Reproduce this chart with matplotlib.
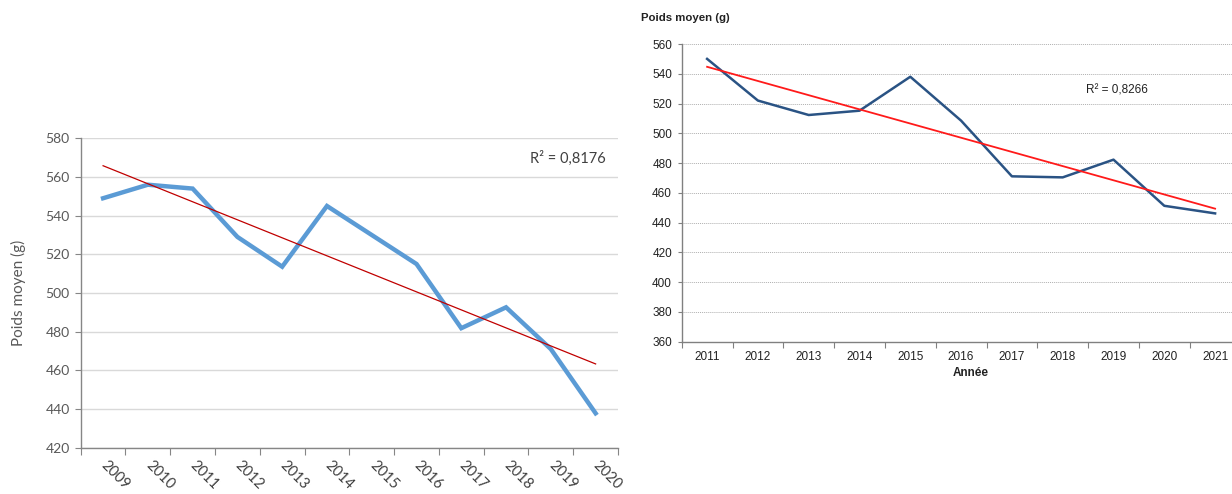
import numpy as np
import matplotlib
matplotlib.use("Agg")
import matplotlib.pyplot as plt
from matplotlib.ticker import FixedLocator, NullFormatter, FixedFormatter

# Left chart data
YEARS_LEFT = ["2009", "2010", "2011", "2012", "2013", "2014",
              "2015", "2016", "2017", "2018", "2019", "2020"]
WEIGHT_LEFT = [549, 556, 554, 529, 513.6, 545, 530, 515, 481.8, 492.6, 471, 437.8]
R2_LEFT = "R² = 0,8176"

# Right chart data
YEARS_RIGHT = ["2011", "2012", "2013", "2014", "2015", "2016",
               "2017", "2018", "2019", "2020", "2021"]
WEIGHT_RIGHT = [550, 522, 512.3, 515.2, 538, 508.5, 471.1, 470.4, 482.3, 451.3, 446.2]
R2_RIGHT = "R² = 0,8266"

W, H = 1232, 494
fig = plt.figure(figsize=(W / 100, H / 100), dpi=100)


def trend(values):
    x = np.arange(len(values))
    slope, icpt = np.polyfit(x, values, 1)
    return x, slope * x + icpt


# ---------- left chart (Excel style) ----------
ax1 = fig.add_axes([80.7 / W, 46.3 / H, 537.3 / W, 309.4 / H])
n1 = len(YEARS_LEFT)
x1 = np.arange(n1)
ax1.plot(x1, WEIGHT_LEFT, color="#5b9bd5", lw=3.2, solid_joinstyle="miter", zorder=3)
tx, ty = trend(WEIGHT_LEFT)
ax1.plot(tx, ty, color="#c00000", lw=0.9, zorder=4)
ax1.set_xlim(-0.5, n1 - 0.5)
ax1.set_ylim(420, 580)
ax1.set_yticks(range(420, 581, 20))
ax1.grid(axis="y", color="#d9d9d9", lw=1)
ax1.set_axisbelow(True)
for s in ["top", "right"]:
    ax1.spines[s].set_visible(False)
for s in ["left", "bottom"]:
    ax1.spines[s].set_color("#868686")
    ax1.spines[s].set_linewidth(1)
ax1.xaxis.set_major_locator(FixedLocator(np.arange(-0.5, n1, 1)))
ax1.xaxis.set_major_formatter(NullFormatter())
ax1.xaxis.set_minor_locator(FixedLocator(x1))
ax1.xaxis.set_minor_formatter(FixedFormatter(YEARS_LEFT))
ax1.tick_params(axis="x", which="major", length=5, color="#868686", direction="out")
ax1.tick_params(axis="x", which="minor", length=0, pad=11, labelsize=10.5,
                labelcolor="#404040", labelrotation=-45)
ax1.tick_params(axis="y", length=4, color="#868686", labelsize=10,
                labelcolor="#595959", pad=4)
for lab in ax1.get_xticklabels(minor=True):
    lab.set_ha("left")
    lab.set_va("center")
    lab.set_rotation_mode("anchor")
for lab in ax1.get_xticklabels(minor=True) + ax1.get_yticklabels():
    lab.set_family("Lato")
ax1.set_ylabel("Poids moyen (g)", fontsize=11, color="#595959", family="Lato",
               labelpad=14)
ax1.text(0.978, 0.936, R2_LEFT, transform=ax1.transAxes, ha="right", va="center",
         fontsize=10.5, color="#404040", family="Lato")

# ---------- right chart ----------
ax2 = fig.add_axes([681.7 / W, 152.3 / H, 558.8 / W, 297.7 / H])
n2 = len(YEARS_RIGHT)
x2 = np.arange(n2)
ax2.plot(x2, WEIGHT_RIGHT, color="#2a5384", lw=1.8, zorder=3)
tx, ty = trend(WEIGHT_RIGHT)
ax2.plot(tx, ty, color="#ff1a1a", lw=1.3, zorder=4)
ax2.set_xlim(-0.5, n2 - 0.5)
ax2.set_ylim(360, 560)
ax2.set_yticks(range(360, 561, 20))
ax2.grid(axis="y", color="#b0b0b0", lw=0.7, linestyle=(0, (1, 1)))
ax2.set_axisbelow(True)
for s in ["top", "right"]:
    ax2.spines[s].set_visible(False)
for s in ["left", "bottom"]:
    ax2.spines[s].set_color("#808080")
    ax2.spines[s].set_linewidth(1)
ax2.xaxis.set_major_locator(FixedLocator(np.arange(-0.5, n2, 1)))
ax2.xaxis.set_major_formatter(NullFormatter())
ax2.xaxis.set_minor_locator(FixedLocator(x2))
ax2.xaxis.set_minor_formatter(FixedFormatter(YEARS_RIGHT))
ax2.tick_params(axis="x", which="major", length=4, color="#808080", direction="out")
ax2.tick_params(axis="x", which="minor", length=0, pad=7, labelsize=8.5,
                labelcolor="#222222")
ax2.tick_params(axis="y", length=3, color="#808080", labelsize=8.5,
                labelcolor="#222222", pad=4)
for lab in ax2.get_xticklabels(minor=True) + ax2.get_yticklabels():
    lab.set_family("Liberation Sans")
ax2.text(0.7235, 0.845, R2_RIGHT, transform=ax2.transAxes, ha="left", va="center",
         fontsize=8.5, color="#222222", family="Liberation Sans")
fig.text(641 / W, 1 - 18 / H, "Poids moyen (g)", ha="left", va="center",
         fontsize=8.2, fontweight="bold", color="#222222", family="Liberation Sans")
fig.text(971 / W, 1 - 373 / H, "Année", ha="center", va="center",
         fontsize=8.5, fontweight="bold", color="#222222", family="Liberation Sans")

fig.savefig("out.png", dpi=100)
